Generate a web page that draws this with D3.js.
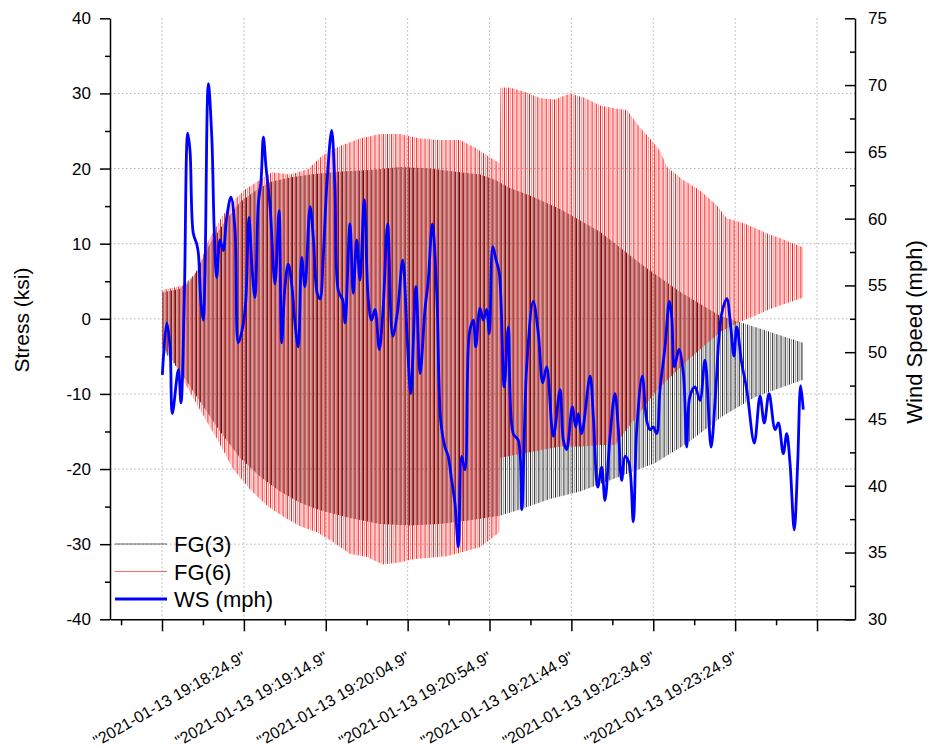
<!DOCTYPE html>
<html>
<head>
<meta charset="utf-8">
<script src="https://cdn.jsdelivr.net/npm/d3@7"></script>
<style>
  body { margin: 0; background: #fff; }
  svg { font-family: "Liberation Sans", Arial, sans-serif; }
  .axis path, .axis line { stroke: #000; stroke-width: 1.5; }
  .axis text { fill: #000; }
  .grid line { stroke: #b0b0b0; stroke-width: 1; stroke-dasharray: 1.5,2.5; }
</style>
</head>
<body>
<svg id="chart" width="929" height="749"></svg>
<script>
// time is seconds after 2021-01-13 19:17:34.9
var xTickLabels = ['"2021-01-13 19:18:24.9"', '"2021-01-13 19:19:14.9"', '"2021-01-13 19:20:04.9"',
  '"2021-01-13 19:20:54.9"', '"2021-01-13 19:21:44.9"', '"2021-01-13 19:22:34.9"', '"2021-01-13 19:23:24.9"'];
var cyclePeriod = 2.55; // s, one load cycle of the stress records

// FG(3) stress envelope (ksi) - peaks / troughs of each cycle
var fg3UpT = [0, 11, 20.2, 29.3, 38.5, 47.6, 56.8, 66, 78.2, 90.4, 108.7, 127, 145.3, 163.7, 182, 194.2, 203.4, 212.5, 224.7, 243.1, 267.5, 291.9, 316.3, 340.7, 362.2, 377.4, 391.5];
var fg3Up = [3.5, 4, 6, 10, 13, 15.5, 17, 18.2, 18.8, 19.2, 19.6, 19.8, 20.2, 20, 19.5, 19.2, 18.5, 17.4, 16.4, 14.6, 11.6, 7.4, 3.6, 0.4, -1.1, -2.2, -3.2];
var fg3LoT = [0, 11, 23.2, 35.4, 47.6, 59.8, 72.1, 84.3, 96.5, 114.8, 133.1, 151.5, 169.8, 188.1, 206.4, 218.6, 236.9, 255.3, 279.7, 301.1, 321.2, 342, 362.2, 377.4, 391.5];
var fg3Lo = [-4, -7, -11, -15, -18.5, -21, -23, -24.5, -25.5, -26.5, -27.3, -27.5, -27.3, -26.8, -26.2, -25.4, -24, -23, -21, -19.2, -16.5, -13, -10.4, -9.2, -8.1];

// FG(6) stress envelope (ksi)
var fg6UpT = [0, 7.9, 15.9, 22, 28.1, 36.6, 44.6, 50.7, 59.9, 67.2, 78.2, 89.2, 97.7, 108.7, 120.9, 133.1, 145.3, 157.5, 169.8, 182, 191.1, 200.3, 206.1, 206.7, 212.5, 221.7, 230.8, 240, 249.2, 258.3, 267.5, 276.7, 283.9, 291.8, 298, 304.1, 308.4, 318.1, 328.4, 338.8, 344.9, 355.9, 369.3, 380.4, 391.5];
var fg6Up = [3.8, 4.2, 4.6, 6.6, 10.3, 13.6, 15.9, 17.2, 18.5, 19.5, 19.2, 19.9, 21.7, 23, 24, 24.6, 24.6, 24, 23.8, 23.8, 22.8, 21.5, 20.7, 30.8, 30.8, 30.2, 29.4, 29.2, 30, 29.4, 28.4, 28, 27.8, 25.5, 24, 22.4, 20.2, 18.5, 17.1, 15.1, 13.4, 12.7, 11.4, 10.5, 9.5];
var fg6LoT = [0, 7.9, 12.8, 23.2, 33.6, 43.4, 53.7, 64.1, 73.9, 84.3, 94.7, 104.4, 114.8, 125.2, 135, 145.3, 153.3, 174, 194.2, 206.1, 206.7, 218.6, 230.8, 243.1, 255.3, 267.5, 276.7, 282.8, 291.8, 301, 310.2, 321.2, 331.6, 342, 353, 362.2, 371.4, 380.6, 391.5];
var fg6Lo = [-3.5, -6, -8.1, -12.1, -16, -20, -22.7, -24.9, -26.3, -27.6, -28.4, -29.7, -31.3, -31.7, -32.7, -32.4, -32, -31.6, -30.4, -28.4, -18.5, -18, -17.5, -17, -17, -16.8, -16.8, -15, -12.5, -9.8, -7.8, -5.5, -3.5, -1.6, -0.4, 0.4, 1.3, 2, 2.8];

// WS (mph)
var wsT = [0.2, 2.9, 4.9, 6.3, 10, 11.6, 13.6, 15.7, 17.1, 19.1, 21.2, 22.2, 23.8, 25.2, 26.2, 28.3, 30.4, 31.9, 33.4, 35.4, 37.4, 39.5, 42.1, 44.6, 46.6, 49, 51.1, 53.1, 55.1, 56.8, 58.8, 60.5, 61.9, 63.5, 66, 69, 71.5, 73.1, 75.1, 77.1, 79.2, 81.2, 83.2, 85.3, 87.3, 90.4, 92.4, 94.8, 96.5, 98.5, 100.6, 103.6, 105.6, 107.7, 110.4, 111.8, 114.8, 116.8, 118.9, 120.9, 123.5, 126, 128, 130.1, 132.7, 135.1, 137.8, 140.9, 143.7, 147, 149.8, 151.9, 155.1, 157.6, 160.6, 162.6, 165.1, 167.8, 170.2, 172.8, 174.8, 176.9, 178.9, 181, 183, 185, 187.7, 190.1, 191.6, 194.2, 196.2, 198.3, 199.9, 202, 204, 206, 209, 211.5, 214.5, 217.6, 219.7, 222.7, 226.7, 229.8, 232.5, 234.9, 239, 243.1, 245.1, 247.1, 250.6, 252.6, 254.2, 256.3, 261.4, 263.4, 266.1, 268.5, 270.5, 273.6, 276.6, 278.7, 280.7, 282.8, 285.2, 287.8, 289.9, 293.3, 296, 298, 300, 302.1, 304.1, 307.2, 309.8, 311.3, 312.9, 315.7, 318.4, 320.4, 322.4, 325.5, 328.5, 331.6, 335.3, 337.7, 340.2, 341.8, 344.9, 347.3, 349.3, 351, 354, 357.1, 361.7, 365.2, 367.8, 370.7, 374.4, 376.4, 379.4, 381.5, 383.5, 386.1, 388.2, 390, 391.6];
var ws = [48.3, 52.2, 50.4, 45.4, 48.7, 46.2, 53.9, 66.4, 65.1, 58.9, 58.1, 57.4, 53.7, 52.4, 55.6, 70.1, 66.1, 59.1, 55.6, 58.4, 57.6, 60.1, 61.6, 59.1, 50.7, 51.7, 53.7, 60.1, 56.1, 54.1, 61.1, 62.9, 66.1, 63.9, 60.9, 55.1, 60.6, 50.7, 54.9, 56.6, 55.1, 52.2, 50.4, 57.1, 54.9, 60.9, 58.6, 54.4, 54, 57.2, 62.4, 66.6, 62.4, 54.6, 53.9, 52.2, 59.6, 54.4, 58.4, 55.4, 61.4, 53.9, 52.4, 53.2, 50.2, 53.4, 59.6, 51.2, 52.9, 56.9, 50.9, 46.9, 54.9, 48.4, 53.2, 55.4, 59.6, 54.4, 44.9, 42.9, 42.2, 40.4, 38.7, 35.4, 42.2, 41.2, 51.4, 52.4, 50.4, 53.3, 52.4, 53.2, 51.4, 57.9, 56.9, 55.9, 47.4, 51.9, 43.9, 43.4, 38.2, 48.9, 53.8, 51.4, 47.7, 48.9, 43.7, 47.2, 43.4, 42.7, 45.9, 44.4, 45.4, 43.9, 48.2, 45.2, 39.9, 41.4, 38.9, 43.7, 46.9, 44.2, 40.4, 42.2, 41.7, 37.3, 44.2, 48.2, 44.9, 44.2, 44.4, 43.9, 47.2, 50.4, 53.8, 52.6, 48.9, 50.2, 48.4, 42.9, 46.7, 47.4, 46.4, 49.4, 42.9, 46.2, 51.2, 52.9, 54, 51.9, 49.7, 51.9, 49.2, 47.2, 43.2, 46.7, 44.7, 46.9, 44.2, 44.7, 42.4, 43.9, 41.7, 36.7, 41.7, 47.5, 45.7];

var W = 929, H = 749;
var margin = { top: 18.3, right: 74, bottom: 129.7, left: 110 };
var width = W - margin.left - margin.right;
var height = H - margin.top - margin.bottom;

var svg = d3.select("#chart");
var defs = svg.append("defs");
var g = svg.append("g").attr("transform", "translate(" + margin.left + "," + margin.top + ")");

var x = d3.scaleLinear().domain([-31.76, 423.2]).range([0, width]);
var yL = d3.scaleLinear().domain([-40, 40]).range([height, 0]);
var yR = d3.scaleLinear().domain([30, 75]).range([height, 0]);

var majorX = d3.range(0, 401, 50);
var minorX = d3.range(-25, 424, 50);

// grid
g.append("g").attr("class", "grid")
  .selectAll("line").data(d3.range(-30, 31, 10)).enter().append("line")
  .attr("x1", 0).attr("x2", width)
  .attr("y1", d => yL(d)).attr("y2", d => yL(d));
g.append("g").attr("class", "grid")
  .selectAll("line").data(majorX).enter().append("line")
  .attr("y1", 0).attr("y2", height)
  .attr("x1", d => x(d)).attr("x2", d => x(d));

// envelope band of a stress record
function band(tu, u, tl, l) {
  var pts = tu.map((t, i) => [x(t), yL(u[i])]);
  for (var i = tl.length - 1; i >= 0; i--) pts.push([x(tl[i]), yL(l[i])]);
  return d3.line()(pts) + "Z";
}

// each cycle = an up stroke and a down stroke, clipped to the envelope
function cycles(id, color, phase, ops, tu, u, tl, l) {
  defs.append("clipPath").attr("id", id).append("path").attr("d", band(tu, u, tl, l));
  var tEnd = Math.max(tu[tu.length - 1], tl[tl.length - 1]);
  var strokes = [];
  d3.range(0, tEnd, cyclePeriod).forEach(function (t) {
    strokes.push({ t: t + phase * cyclePeriod, o: ops[0] });
    strokes.push({ t: t + (phase + 0.5) * cyclePeriod, o: ops[1] });
  });
  g.append("g").attr("clip-path", "url(#" + id + ")")
    .selectAll("line").data(strokes).enter().append("line")
    .attr("x1", d => x(d.t)).attr("x2", d => x(d.t))
    .attr("y1", 0).attr("y2", height)
    .attr("stroke", color).attr("stroke-width", 1.05).attr("stroke-opacity", d => d.o);
}
cycles("clip3", "#000", 0.25, [0.85, 0.4], fg3UpT, fg3Up, fg3LoT, fg3Lo);
cycles("clip6", "#ff0000", 0, [0.9, 0.42], fg6UpT, fg6Up, fg6LoT, fg6Lo);

var wsLine = d3.line().x((d, i) => x(wsT[i])).y(d => yR(d)).curve(d3.curveCatmullRom.alpha(0.5));
g.append("path").datum(ws).attr("d", wsLine)
  .attr("fill", "none").attr("stroke", "#0000ff").attr("stroke-width", 2.8)
  .attr("stroke-linejoin", "round");

// axes
var plain = d => String(d);
var axL = g.append("g").attr("class", "axis")
  .call(d3.axisLeft(yL).tickValues(d3.range(-40, 41, 10)).tickSize(10).tickPadding(9).tickSizeOuter(0).tickFormat(plain));
axL.selectAll("text").style("font-size", "17px");
g.append("g").attr("class", "axis")
  .call(d3.axisLeft(yL).tickValues(d3.range(-35, 40, 10)).tickSize(5).tickFormat("").tickSizeOuter(0))
  .select(".domain").remove();

var axR = g.append("g").attr("class", "axis").attr("transform", "translate(" + width + ",0)")
  .call(d3.axisRight(yR).tickValues(d3.range(30, 76, 5)).tickSize(-10).tickPadding(13).tickSizeOuter(0).tickFormat(plain));
axR.selectAll("text").style("font-size", "17px");
g.append("g").attr("class", "axis").attr("transform", "translate(" + width + ",0)")
  .call(d3.axisRight(yR).tickValues(d3.range(32.5, 75, 5)).tickSize(-5).tickFormat("").tickSizeOuter(0))
  .select(".domain").remove();

var axB = g.append("g").attr("class", "axis").attr("transform", "translate(0," + height + ")")
  .call(d3.axisBottom(x).tickValues(majorX).tickSize(12).tickSizeOuter(0)
    .tickFormat((d, i) => (i >= 1 && i <= xTickLabels.length) ? xTickLabels[i - 1] : ""));
axB.selectAll("text")
  .style("font-size", "16px")
  .attr("text-anchor", "end")
  .attr("dy", 0).attr("y", 0)
  .attr("transform", "translate(3,41) rotate(-30)");
g.append("g").attr("class", "axis").attr("transform", "translate(0," + height + ")")
  .call(d3.axisBottom(x).tickValues(minorX).tickSize(6).tickFormat("").tickSizeOuter(0))
  .select(".domain").remove();

// titles
svg.append("text").attr("transform", "translate(29,320) rotate(-90)")
  .attr("text-anchor", "middle").style("font-size", "21px").text("Stress (ksi)");
svg.append("text").attr("transform", "translate(922,332) rotate(-90)")
  .attr("text-anchor", "middle").style("font-size", "22px").text("Wind Speed (mph)");

// legend
var legend = [
  { name: "FG(3)", color: "#000", w: 0.6 },
  { name: "FG(6)", color: "#ff0000", w: 0.6 },
  { name: "WS (mph)", color: "#0000ff", w: 3 }
];
var lg = svg.append("g").attr("transform", "translate(115,544)");
legend.forEach(function (d, i) {
  lg.append("line").attr("x1", 0).attr("x2", 52).attr("y1", i * 27.5).attr("y2", i * 27.5)
    .attr("stroke", d.color).attr("stroke-width", d.w);
  lg.append("text").attr("x", 59).attr("y", i * 27.5 + 8).style("font-size", "22px").text(d.name);
});
</script>
</body>
</html>
